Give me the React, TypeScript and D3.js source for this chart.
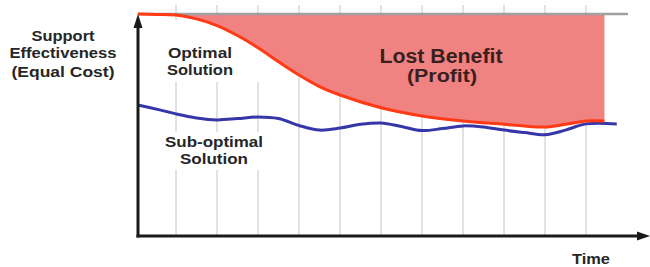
import React from "react";
import * as d3 from "d3";

// Time (grid units) and effectiveness values (0..100, 100 = top reference line)
const optimalTime = [0.07, 0.5, 1, 1.5, 2, 2.5, 3, 3.5, 4, 4.5, 5, 6, 7, 8, 9, 9.5, 10, 10.5, 11, 11.45];
const optimalValue = [100, 99.8, 99.5, 97.8, 94.8, 90.3, 84.8, 78.5, 72.5, 67.3, 63.5, 57.8, 54.1, 51.8, 50.3, 49.5, 49.1, 50.3, 51.8, 51.8];

const subTime = [0.07, 0.6, 1, 1.5, 2, 2.5, 3, 3.5, 4, 4.5, 5, 5.5, 6, 6.5, 7, 7.5, 8, 8.5, 9, 9.5, 10, 10.5, 11, 11.75];
const subValue = [59.0, 56.8, 55.0, 53.2, 52.3, 52.9, 53.6, 52.9, 49.8, 47.7, 48.6, 50.3, 50.9, 49.3, 47.5, 48.4, 49.6, 49.1, 47.7, 46.6, 45.6, 47.7, 50.5, 50.5];

const gridTimes = [1, 2, 3, 4, 5, 6, 7, 8, 9, 10, 11];

const yLabelLines = ["Support", "Effectiveness", "(Equal Cost)"];
const optimalLabel = ["Optimal", "Solution"];
const subLabel = ["Sub-optimal", "Solution"];
const lostLabel = ["Lost Benefit", "(Profit)"];
const xLabel = "Time";

export default function App() {
  const W = 650, H = 267;
  const x = d3.scaleLinear().domain([0, 12]).range([135, 627]);
  const y = d3.scaleLinear().domain([0, 100]).range([236, 14]);
  const axisX = 138, axisY = 236;

  const opt = optimalTime.map((t, i) => [t, optimalValue[i]] as [number, number]);
  const sub = subTime.map((t, i) => [t, subValue[i]] as [number, number]);

  const line = d3.line<[number, number]>().x(d => x(d[0])).y(d => y(d[1])).curve(d3.curveCatmullRom.alpha(0.5));
  const area = d3.area<[number, number]>().x(d => x(d[0])).y0(y(100)).y1(d => y(d[1])).curve(d3.curveCatmullRom.alpha(0.5));

  const font = "'Liberation Sans', Arial, Helvetica, sans-serif";
  const textFill = "#262626";

  return (
    <svg width={W} height={H} style={{ position: "absolute", left: 0, top: 0, background: "#fff" }}>
      <rect x={0} y={0} width={W} height={H} fill="#fff" />
      {/* vertical grid */}
      {gridTimes.map(t => (
        <line key={t} x1={x(t)} x2={x(t)} y1={5} y2={axisY} stroke="#c4c4c4" strokeWidth={1} />
      ))}
      {/* label backgrounds hiding grid */}
      <rect x={160} y={20} width={105} height={62} fill="#fff" />
      <rect x={160} y={132} width={120} height={38} fill="#fff" />
      {/* lost benefit area */}
      <path d={area(opt) || ""} fill="#f08282" />
      {/* top reference line */}
      <line x1={axisX} x2={628} y1={y(100)} y2={y(100)} stroke="#a0a0a0" strokeWidth={2.5} />
      {/* lines */}
      <path d={line(sub) || ""} fill="none" stroke="#3636a8" strokeWidth={3} />
      <path d={line(opt) || ""} fill="none" stroke="#ff3a14" strokeWidth={3} />
      {/* axes */}
      <line x1={axisX} x2={axisX} y1={22} y2={axisY + 1.5} stroke="#1a1a1a" strokeWidth={3} />
      <line x1={axisX - 1.5} x2={642} y1={axisY} y2={axisY} stroke="#1a1a1a" strokeWidth={3} />
      <polygon points={`${axisX},14 ${axisX - 4.5},28 ${axisX + 4.5},28`} fill="#1a1a1a" />
      <polygon points={`650,${axisY} 637,${axisY - 4.5} 637,${axisY + 4.5}`} fill="#1a1a1a" />
      {/* texts */}
      <g fontFamily={font} fontWeight="bold" fill={textFill} textAnchor="middle">
        <text x={63} y={41} fontSize={14} textLength={63} lengthAdjust="spacingAndGlyphs">{yLabelLines[0]}</text>
        <text x={63} y={58} fontSize={14} textLength={107} lengthAdjust="spacingAndGlyphs">{yLabelLines[1]}</text>
        <text x={63} y={77} fontSize={14} textLength={103} lengthAdjust="spacingAndGlyphs">{yLabelLines[2]}</text>
        <text x={200} y={58} fontSize={15} textLength={64} lengthAdjust="spacingAndGlyphs">{optimalLabel[0]}</text>
        <text x={200} y={75} fontSize={15} textLength={66} lengthAdjust="spacingAndGlyphs">{optimalLabel[1]}</text>
        <text x={214} y={147} fontSize={15} textLength={98} lengthAdjust="spacingAndGlyphs">{subLabel[0]}</text>
        <text x={214} y={164} fontSize={15} textLength={68} lengthAdjust="spacingAndGlyphs">{subLabel[1]}</text>
        <text x={441} y={63} fontSize={20} fill="#3a1f1f" textLength={123} lengthAdjust="spacingAndGlyphs">{lostLabel[0]}</text>
        <text x={442} y={82} fontSize={19} fill="#3a1f1f" textLength={70} lengthAdjust="spacingAndGlyphs">{lostLabel[1]}</text>
        <text x={591} y={264} fontSize={15} textLength={38} lengthAdjust="spacingAndGlyphs">{xLabel}</text>
      </g>
    </svg>
  );
}
